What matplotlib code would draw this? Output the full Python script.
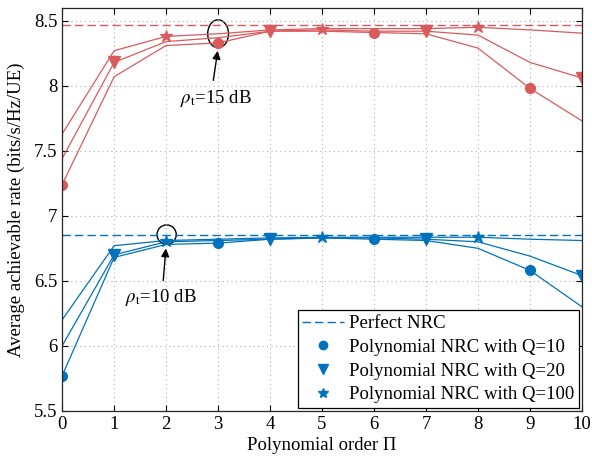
import matplotlib.pyplot as plt
import numpy as np
from matplotlib.patches import Ellipse
from matplotlib.lines import Line2D

plt.rcParams['font.family'] = ['Liberation Serif', 'DejaVu Serif']
plt.rcParams['mathtext.fontset'] = 'stix'

order = np.arange(0, 11)

# rho_t = 15 dB
perfect_15 = 8.465
q10_15 = [7.24, 8.07, 8.31, 8.33, 8.42, 8.42, 8.41, 8.40, 8.29, 7.98, 7.73]
q20_15 = [7.44, 8.18, 8.34, 8.37, 8.42, 8.43, 8.42, 8.42, 8.39, 8.18, 8.06]
q100_15 = [7.63, 8.27, 8.38, 8.40, 8.43, 8.44, 8.44, 8.44, 8.45, 8.43, 8.405]

# rho_t = 10 dB
perfect_10 = 6.855
q10_10 = [5.77, 6.68, 6.78, 6.79, 6.82, 6.83, 6.82, 6.81, 6.75, 6.58, 6.30]
q20_10 = [6.00, 6.70, 6.80, 6.81, 6.82, 6.83, 6.83, 6.82, 6.80, 6.69, 6.54]
q100_10 = [6.20, 6.77, 6.81, 6.82, 6.83, 6.835, 6.835, 6.835, 6.835, 6.82, 6.81]

red = '#D95A5C'
blue = '#0072BD'

fig = plt.figure(figsize=(5.92, 4.59), dpi=100)
ax = fig.add_axes([0.105, 0.105, 0.878, 0.878])

for color, perf, series in [(red, perfect_15, (q10_15, q20_15, q100_15)),
                            (blue, perfect_10, (q10_10, q20_10, q100_10))]:
    ax.axhline(perf, color=color, ls=(0, (6, 3)), lw=1.0)
    ax.plot(order, series[0], color=color, lw=0.9, marker='o', ms=7,
            markevery=[0, 3, 6, 9])
    ax.plot(order, series[1], color=color, lw=0.9, marker='v', ms=8,
            markevery=[1, 4, 7, 10])
    ax.plot(order, series[2], color=color, lw=0.9, marker='*', ms=9,
            markevery=[2, 5, 8])

# annotations
ax.add_patch(Ellipse((3.0, 8.40), 0.40, 0.215, fill=False, ec='black', lw=1.0))
ax.annotate('', xy=(3.0, 8.29), xytext=(2.9, 8.02),
            arrowprops=dict(arrowstyle='-|>', color='black', lw=1.0,
                            mutation_scale=12))
ax.text(2.95, 7.9, r'$\rho_{\rm t}$=15 dB', ha='center', va='center', fontsize=13.5)

ax.add_patch(Ellipse((2.01, 6.855), 0.37, 0.15, fill=False, ec='black', lw=1.0))
ax.annotate('', xy=(2.0, 6.77), xytext=(1.94, 6.48),
            arrowprops=dict(arrowstyle='-|>', color='black', lw=1.0,
                            mutation_scale=12))
ax.text(1.9, 6.37, r'$\rho_{\rm t}$=10 dB', ha='center', va='center', fontsize=13.5)

ax.set_xlim(0, 10)
ax.set_ylim(5.5, 8.6)
ax.set_xticks(range(0, 11))
ax.set_yticks([5.5, 6, 6.5, 7, 7.5, 8, 8.5])
ax.set_yticklabels(['5.5', '6', '6.5', '7', '7.5', '8', '8.5'])
ax.grid(True, ls=(0, (1, 3)), color='#b0b0b0', lw=0.8)
ax.tick_params(direction='in', top=True, right=True, labelsize=13.5, length=4)
for s in ax.spines.values():
    s.set_linewidth(0.9)
    s.set_color('#262626')
ax.set_xlabel('Polynomial order \u03a0', fontsize=13.5, labelpad=3)
ax.set_ylabel('Average achievable rate (bits/s/Hz/UE)', fontsize=13.5, labelpad=6)

handles = [
    Line2D([], [], color=blue, ls=(0, (6, 3)), lw=1.0),
    Line2D([], [], color=blue, ls='none', marker='o', ms=6),
    Line2D([], [], color=blue, ls='none', marker='v', ms=7),
    Line2D([], [], color=blue, ls='none', marker='*', ms=7),
]
labels = ['Perfect NRC', 'Polynomial NRC with Q=10',
          'Polynomial NRC with Q=20', 'Polynomial NRC with Q=100']
leg = ax.legend(handles, labels, loc='lower right', fontsize=13.5, frameon=True,
                fancybox=False, edgecolor='black', framealpha=1,
                borderaxespad=0.15, handlelength=2.2, handletextpad=0.3,
                labelspacing=0.35, borderpad=0.25)
leg.get_frame().set_linewidth(0.9)

fig.savefig('out.png', dpi=100)
